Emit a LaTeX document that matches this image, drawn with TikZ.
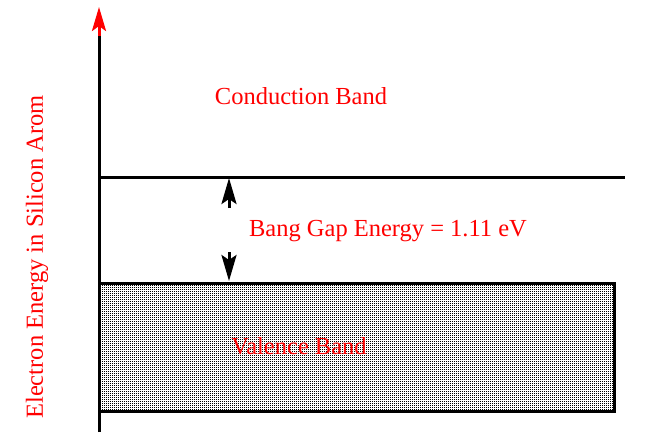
\documentclass[tikz,border=0pt]{standalone}
\usepackage{fontspec}
\setmainfont{Liberation Serif}
\usetikzlibrary{arrows.meta,patterns}

\pgfdeclarepatternformonly{finedots}{\pgfpointorigin}{\pgfqpoint{2pt}{2pt}}{\pgfqpoint{2pt}{2pt}}{%
  \pgfpathrectangle{\pgfpointorigin}{\pgfqpoint{1.25pt}{1.25pt}}\pgfusepath{fill}}

\tikzset{
  bandtext/.style={text=red, font=\fontsize{24.5}{28}\selectfont, inner sep=0pt},
  gaparrow/.style={line width=3pt, -{Stealth[length=26pt, width=15pt, inset=5pt]}},
}

\begin{document}
\begin{tikzpicture}[x=1pt, y=-1pt]
  \useasboundingbox (0,0) rectangle (651,434);
  % valence band box
  \fill[pattern=finedots] (99,283) rectangle (614,411);
  \draw[line width=3pt] (99,283) rectangle (614,411);
  % axis
  \coordinate (axisbottom) at (99,432);
  \coordinate (axismid) at (99,36);
  \coordinate (axistop) at (99,7);
  \draw[line width=3pt] (axisbottom) -- (axismid);
  \draw[line width=3pt, red, -{Stealth[length=24pt, width=14pt, inset=5pt]}] (axismid) -- (axistop);
  % conduction band edge
  \coordinate (condleft) at (99,177);
  \coordinate (condright) at (625,177);
  \draw[line width=3pt] (condleft) -- (condright);
  % gap arrows
  \coordinate (uptail) at (229,208);
  \coordinate (uphead) at (229,178);
  \coordinate (downtail) at (229,252);
  \coordinate (downhead) at (229,281);
  \draw[gaparrow] (uptail) -- (uphead);
  \draw[gaparrow] (downtail) -- (downhead);
  % labels
  \node[bandtext] (conduction) at (301,96) {Conduction Band};
  \node[bandtext] (gap) at (388,231) {Bang Gap Energy = 1.11 eV};
  \node[bandtext] (valence) at (299,346) {Valence Band};
  \node[bandtext, rotate=90] (energy) at (37,257) {Electron Energy in Silicon Arom};
\end{tikzpicture}
\end{document}
